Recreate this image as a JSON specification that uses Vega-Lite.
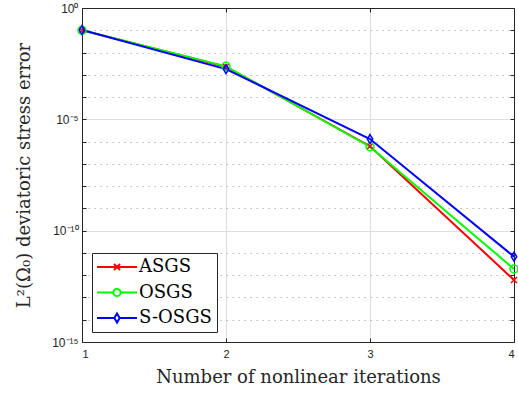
{
  "$schema": "https://vega.github.io/schema/vega-lite/v6.json",
  "width": 432,
  "height": 334,
  "autosize": {"type": "none"},
  "padding": {"left": 82, "top": 8, "right": 4, "bottom": 52},
  "background": "white",
  "config": {"view": {"stroke": null}},
  "data": {
    "values": [
      {"it": 1, "series": "ASGS", "err": 0.1},
      {"it": 2, "series": "ASGS", "err": 0.0023},
      {"it": 3, "series": "ASGS", "err": 6.2e-7},
      {"it": 4, "series": "ASGS", "err": 6.1e-13},
      {"it": 1, "series": "OSGS", "err": 0.1},
      {"it": 2, "series": "OSGS", "err": 0.0024},
      {"it": 3, "series": "OSGS", "err": 5.9e-7},
      {"it": 4, "series": "OSGS", "err": 1.9e-12},
      {"it": 1, "series": "S-OSGS", "err": 0.102},
      {"it": 2, "series": "S-OSGS", "err": 0.0018},
      {"it": 3, "series": "S-OSGS", "err": 1.3e-6},
      {"it": 4, "series": "S-OSGS", "err": 6.8e-12}
    ]
  },
  "resolve": {"axis": {"x": "independent", "y": "independent"}},
  "layer": [
    {
      "mark": {"type": "line", "strokeWidth": 2, "clip": true},
      "encoding": {
        "x": {"field": "it", "type": "quantitative", "scale": {"domain": [1, 4], "nice": false, "zero": false},
          "axis": {"orient": "bottom", "values": [1, 2, 3, 4], "format": "d", "grid": true, "gridColor": "#dedede", "gridWidth": 1,
            "tickSize": -4, "tickColor": "#262626", "domainColor": "#262626", "labelFont": "Liberation Sans", "labelFontSize": 11,
            "labelColor": "#262626", "labelPadding": 10, "title": "Number of nonlinear iterations", "titleFont": "DejaVu Serif",
            "titleFontSize": 18, "titleFontWeight": "normal", "titleColor": "#262626", "titlePadding": 9}},
        "y": {"field": "err", "type": "quantitative", "scale": {"type": "log", "domain": [1e-15, 1], "nice": false},
          "axis": {"orient": "left", "values": [1, 1e-1, 1e-2, 1e-3, 1e-4, 1e-5, 1e-6, 1e-7, 1e-8, 1e-9, 1e-10, 1e-11, 1e-12, 1e-13, 1e-14, 1e-15],
            "labelExpr": "round(log(datum.value)/LN10) == 0 ? '10⁰' : round(log(datum.value)/LN10) == -5 ? '10⁻⁵' : round(log(datum.value)/LN10) == -10 ? '10⁻¹⁰' : round(log(datum.value)/LN10) == -15 ? '10⁻¹⁵' : ''",
            "grid": true,
            "gridColor": {"condition": {"test": "abs(round(log(datum.value)/LN10)) % 5 == 0", "value": "#dedede"}, "value": "#b8b8b8"},
            "gridDash": {"condition": {"test": "abs(round(log(datum.value)/LN10)) % 5 == 0", "value": []}, "value": [1.5, 4.5]},
            "tickSize": -4, "tickColor": "#262626", "domainColor": "#262626", "labelFont": "Liberation Sans", "labelFontSize": 12,
            "labelColor": "#262626", "labelPadding": 8, "labelOverlap": false, "labelBound": false,
            "title": "L²(Ω₀) deviatoric stress error", "titleFont": "DejaVu Serif", "titleFontSize": 18,
            "titleFontWeight": "normal", "titleColor": "#262626", "titlePadding": 18}},
        "color": {"field": "series", "type": "nominal",
          "scale": {"domain": ["ASGS", "OSGS", "S-OSGS"], "range": ["#ff0000", "#00ff00", "#0000ff"]}}
      }
    },
    {
      "transform": [{"filter": "datum.series == 'ASGS'"}],
      "mark": {"type": "point", "filled": false, "strokeWidth": 1.5, "opacity": 1, "shape": "M-1,-1L1,1M-1,1L1,-1", "size": 36, "clip": false},
      "encoding": {
        "x": {"field": "it", "type": "quantitative", "scale": {"domain": [1, 4], "nice": false, "zero": false},
          "axis": {"orient": "top", "values": [1, 2, 3, 4], "labels": false, "grid": false, "tickSize": -4, "tickColor": "#262626", "domainColor": "#262626", "title": null}},
        "y": {"field": "err", "type": "quantitative", "scale": {"type": "log", "domain": [1e-15, 1], "nice": false},
          "axis": {"orient": "right", "values": [1, 1e-1, 1e-2, 1e-3, 1e-4, 1e-5, 1e-6, 1e-7, 1e-8, 1e-9, 1e-10, 1e-11, 1e-12, 1e-13, 1e-14, 1e-15],
            "labels": false, "grid": false, "tickSize": -4, "tickColor": "#262626", "domainColor": "#262626", "title": null}},
        "color": {"field": "series", "type": "nominal"}
      }
    },
    {
      "transform": [{"filter": "datum.series == 'OSGS'"}],
      "mark": {"type": "point", "filled": false, "strokeWidth": 1.5, "opacity": 1, "shape": "circle", "size": 64, "clip": false},
      "encoding": {
        "x": {"field": "it", "type": "quantitative", "axis": null},
        "y": {"field": "err", "type": "quantitative", "axis": null},
        "color": {"field": "series", "type": "nominal"}
      }
    },
    {
      "transform": [{"filter": "datum.series == 'S-OSGS'"}],
      "mark": {"type": "point", "filled": false, "strokeWidth": 1.5, "opacity": 1, "shape": "M0,-1L0.6,0L0,1L-0.6,0Z", "size": 81, "clip": false},
      "encoding": {
        "x": {"field": "it", "type": "quantitative", "axis": null},
        "y": {"field": "err", "type": "quantitative", "axis": null},
        "color": {"field": "series", "type": "nominal"}
      }
    },
    {
      "mark": {"type": "point", "filled": false, "opacity": 0, "strokeWidth": 2},
      "encoding": {
        "x": {"field": "it", "type": "quantitative", "axis": null},
        "y": {"field": "err", "type": "quantitative", "axis": null},
        "color": {"field": "series", "type": "nominal",
          "legend": {"orient": "none", "legendX": 10, "legendY": 245, "title": null, "strokeColor": "#262626", "fillColor": "white",
            "padding": 5, "symbolSize": 256, "symbolStrokeWidth": 2, "symbolOpacity": 1, "labelFont": "DejaVu Serif",
            "labelFontSize": 18, "labelColor": "black", "labelOffset": 24, "rowPadding": 7.5}},
        "shape": {"field": "series", "type": "nominal",
          "scale": {"domain": ["ASGS", "OSGS", "S-OSGS"], "range": [
            "M-1.125,0L3.875,0M1,-0.375L1.75,0.375M1,0.375L1.75,-0.375",
            "M-1.125,0L0.925,0M1.825,0L3.875,0M1.825,0A0.45,0.45 0 1,1 0.925,0A0.45,0.45 0 1,1 1.825,0",
            "M-1.125,0L1.045,0M1.705,0L3.875,0M1.375,-0.5625L1.705,0L1.375,0.5625L1.045,0Z"]},
          "legend": {"orient": "none", "legendX": 10, "legendY": 245, "title": null, "strokeColor": "#262626", "fillColor": "white",
            "padding": 5, "symbolSize": 256, "symbolStrokeWidth": 2, "symbolOpacity": 1, "labelFont": "DejaVu Serif",
            "labelFontSize": 18, "labelColor": "black", "labelOffset": 24, "rowPadding": 7.5}}
      }
    }
  ]
}
